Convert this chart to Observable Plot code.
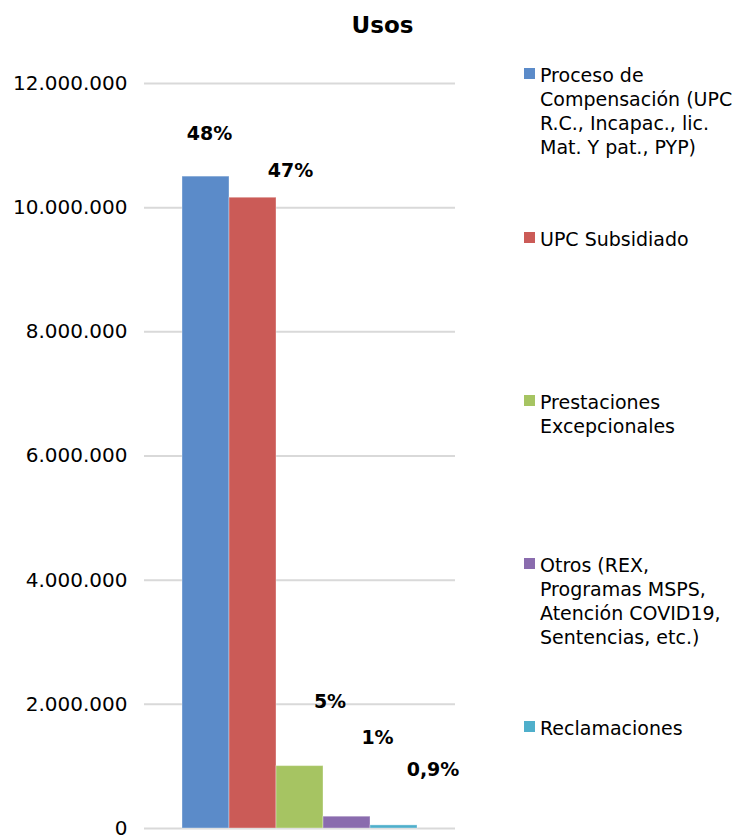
<!DOCTYPE html>
<html>
<head>
<meta charset="utf-8">
<script src="https://cdn.jsdelivr.net/npm/d3@7"></script>
<script src="https://cdn.jsdelivr.net/npm/@observablehq/plot@0.6"></script>
<style>
  html, body { margin: 0; padding: 0; background: #fff; }
  #wrap { position: relative; width: 746px; height: 838px; font-family: "DejaVu Sans", Verdana, sans-serif; color: #000; }
  #title { position: absolute; left: 0; width: 765px; top: 11.5px; text-align: center; font-weight: bold; font-size: 23px; line-height: normal; }
  .leg { position: absolute; left: 524px; font-size: 19px; line-height: 24px; white-space: nowrap; }
  .leg .sw { position: absolute; left: 0; top: 5px; width: 11px; height: 11px; }
  .leg .tx { position: absolute; left: 16px; top: 0; }
  #chart { position: absolute; left: 0; top: 0; }
  #chart svg { overflow: visible; }
</style>
</head>
<body>
<div id="wrap">
  <div id="chart"></div>
  <div id="title">Usos</div>
  <div id="legend"></div>
</div>
<script>
// ---- data ----
const categories = [
  "Proceso de Compensación (UPC R.C., Incapac., lic. Mat. Y pat., PYP)",
  "UPC Subsidiado",
  "Prestaciones Excepcionales",
  "Otros (REX, Programas MSPS, Atención COVID19, Sentencias, etc.)",
  "Reclamaciones"
];
const values = [10500000, 10160000, 1005000, 190000, 50000];
const pctLabels = ["48%", "47%", "5%", "1%", "0,9%"];
const legendLines = [
  ["Proceso de", "Compensación (UPC", "R.C., Incapac., lic.", "Mat. Y pat., PYP)"],
  ["UPC Subsidiado"],
  ["Prestaciones", "Excepcionales"],
  ["Otros (REX,", "Programas MSPS,", "Atención COVID19,", "Sentencias, etc.)"],
  ["Reclamaciones"]
];
const yTicks = [0, 2000000, 4000000, 6000000, 8000000, 10000000, 12000000];

// ---- layout / style ----
const colors = ["#5B8BC9", "#CB5B57", "#A6C462", "#8A6CAE", "#4FAFCB"];
const labelAnchorY = [11090000, 10500000, 1940000, 1360000, 840000]; // label baselines in data units
const labelDx = [3.5, 37.5, 30, 30.5, 39];
const legendTops = [63, 226.5, 389.5, 553, 715.5];

const locale = d3.formatLocale({decimal: ",", thousands: ".", grouping: [3], currency: ["$", ""]});
const fmt = locale.format(",d");

const data = categories.map((c, i) => ({cat: c, value: values[i], pct: pctLabels[i], ly: labelAnchorY[i]}));

const chart = Plot.plot({
  width: 746,
  height: 838,
  marginTop: 83,
  marginBottom: 10,
  marginLeft: 144,
  marginRight: 291,
  style: {fontFamily: "DejaVu Sans, Verdana, sans-serif", color: "#000", background: "transparent", overflow: "visible"},
  x: {domain: categories, paddingInner: 0, paddingOuter: 0.78, axis: null},
  y: {domain: [0, 12000000], axis: null},
  color: {domain: categories, range: colors},
  marks: [
    Plot.ruleY(yTicks, {stroke: "#d9d9d9", strokeWidth: 2}),
    Plot.barY(data, {x: "cat", y: "value", fill: "cat", stroke: "#ffffff", strokeOpacity: 0.35, strokeWidth: 1, inset: 0}),
    Plot.axisY({ticks: yTicks, tickFormat: fmt, tickSize: 0, tickPadding: 17, fontSize: 20, label: null}),
    ...data.map((d, i) => Plot.text([d], {x: "cat", y: "ly", text: "pct", dx: labelDx[i], lineAnchor: "bottom", fontSize: 19, fontWeight: "bold", fill: "#000"}))
  ]
});
document.getElementById("chart").appendChild(chart);

const legend = document.getElementById("legend");
legendLines.forEach((lines, i) => {
  const item = document.createElement("div");
  item.className = "leg";
  item.style.top = legendTops[i] + "px";
  const sw = document.createElement("div");
  sw.className = "sw";
  sw.style.background = colors[i];
  const tx = document.createElement("div");
  tx.className = "tx";
  tx.innerHTML = lines.join("<br>");
  item.appendChild(sw);
  item.appendChild(tx);
  legend.appendChild(item);
});
</script>
</body>
</html>
